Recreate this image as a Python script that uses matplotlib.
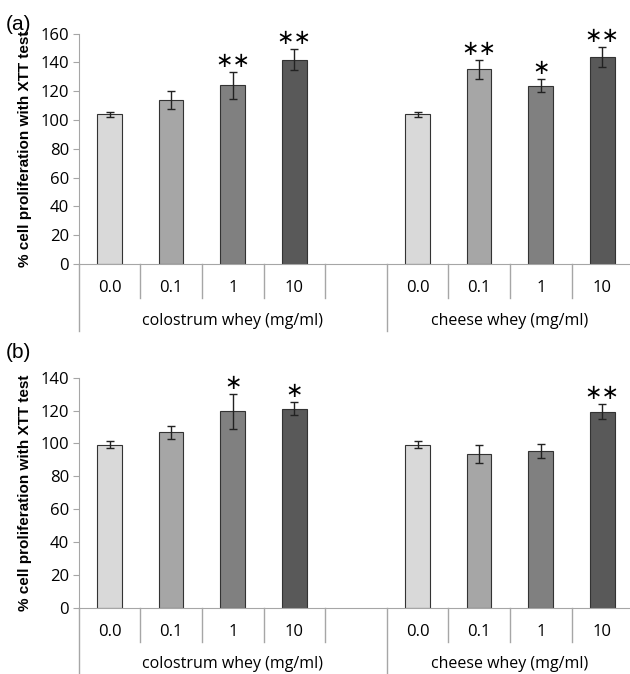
import numpy as np
import matplotlib.pyplot as plt
from matplotlib import transforms

doses = ["0.0", "0.1", "1", "10"]
groups = ["colostrum whey (mg/ml)", "cheese whey (mg/ml)"]
colors = ["#d9d9d9", "#a6a6a6", "#808080", "#595959"]

# panel (a)
a_colostrum = [103.9, 113.8, 124.2, 142.0]
a_colostrum_err = [2.0, 6.1, 9.3, 7.5]
a_colostrum_sig = ["", "", "**", "**"]
a_cheese = [103.9, 135.2, 123.8, 143.8]
a_cheese_err = [2.0, 6.4, 4.6, 6.7]
a_cheese_sig = ["", "**", "*", "**"]

# panel (b)
b_colostrum = [99.2, 106.8, 119.5, 121.2]
b_colostrum_err = [2.2, 3.9, 10.7, 4.2]
b_colostrum_sig = ["", "", "*", "*"]
b_cheese = [99.2, 93.4, 95.6, 119.4]
b_cheese_err = [2.2, 5.5, 4.2, 4.8]
b_cheese_sig = ["", "", "", "**"]

plt.rcParams['font.family'] = ['Open Sans', 'DejaVu Sans']
GRAY = "#a6a6a6"


def draw_panel(ax, col, col_err, col_sig, che, che_err, che_sig, ymax,
               cat_y, div_y, grp_y, long_y):
    xs = [0, 1, 2, 3, 5, 6, 7, 8]
    vals = col + che
    errs = col_err + che_err
    sigs = col_sig + che_sig
    cols = colors + colors
    ax.bar(xs, vals, width=0.4, color=cols, edgecolor="#333333", linewidth=0.8,
           zorder=2)
    ax.errorbar(xs, vals, yerr=errs, fmt="none", ecolor="#222222",
                elinewidth=1, capsize=3, capthick=1, zorder=3)
    for x, v, e, s in zip(xs, vals, errs, sigs):
        if s:
            ax.text(x, v + e + ymax * 0.005, s.replace("*", "\u2217"),
                    ha="center", va="bottom", fontsize=15,
                    family="DejaVu Sans")

    ax.set_xlim(-0.5, 8.5)
    ax.set_ylim(0, ymax)
    ax.set_yticks(np.arange(0, ymax + 1, 20))
    ax.tick_params(axis="y", labelsize=12, length=4, color=GRAY, pad=3)
    ax.set_xticks([])
    for s in ["top", "right"]:
        ax.spines[s].set_visible(False)
    ax.spines["left"].set_color(GRAY)
    ax.spines["bottom"].set_color(GRAY)
    ax.set_ylabel("% cell proliferation with XTT test", fontsize=11,
                  fontweight="bold", family="Liberation Sans", labelpad=6)

    tr = transforms.blended_transform_factory(ax.transData, ax.transAxes)
    for i, x in enumerate(xs):
        ax.text(x, cat_y, doses[i % 4], transform=tr, ha="center",
                va="center", fontsize=12)
    for x in [0.5, 1.5, 2.5, 3.5, 5.5, 6.5, 7.5]:
        ax.plot([x, x], [0, div_y], transform=tr, color=GRAY, lw=1,
                clip_on=False)
    for x in [-0.5, 4.5]:
        ax.plot([x, x], [0, long_y], transform=tr, color=GRAY, lw=1,
                clip_on=False)
    ax.text(2.0, grp_y, groups[0], transform=tr, ha="center", va="center",
            fontsize=11.5)
    ax.text(6.5, grp_y, groups[1], transform=tr, ha="center", va="center",
            fontsize=11.5)


fig = plt.figure(figsize=(6.3, 6.74), dpi=100)
ax1 = fig.add_axes([0.125, 0.6083, 0.88, 0.3417])
ax2 = fig.add_axes([0.125, 0.0984, 0.88, 0.3412])

# offsets below the axes in axes fraction (both panels about 230 px tall)
draw_panel(ax1, a_colostrum, a_colostrum_err, a_colostrum_sig,
           a_cheese, a_cheese_err, a_cheese_sig, 160,
           -24 / 230, -34 / 230, -57 / 230, -67 / 230)
draw_panel(ax2, b_colostrum, b_colostrum_err, b_colostrum_sig,
           b_cheese, b_cheese_err, b_cheese_sig, 140,
           -24 / 230, -34 / 230, -56 / 230, -67 / 230)

fig.text(6 / 630, 1 - 24 / 674, "(a)", fontsize=15, family="Liberation Sans",
         ha="left", va="center")
fig.text(6 / 630, 1 - 352 / 674, "(b)", fontsize=15, family="Liberation Sans",
         ha="left", va="center")

fig.savefig("out.png", dpi=100)
